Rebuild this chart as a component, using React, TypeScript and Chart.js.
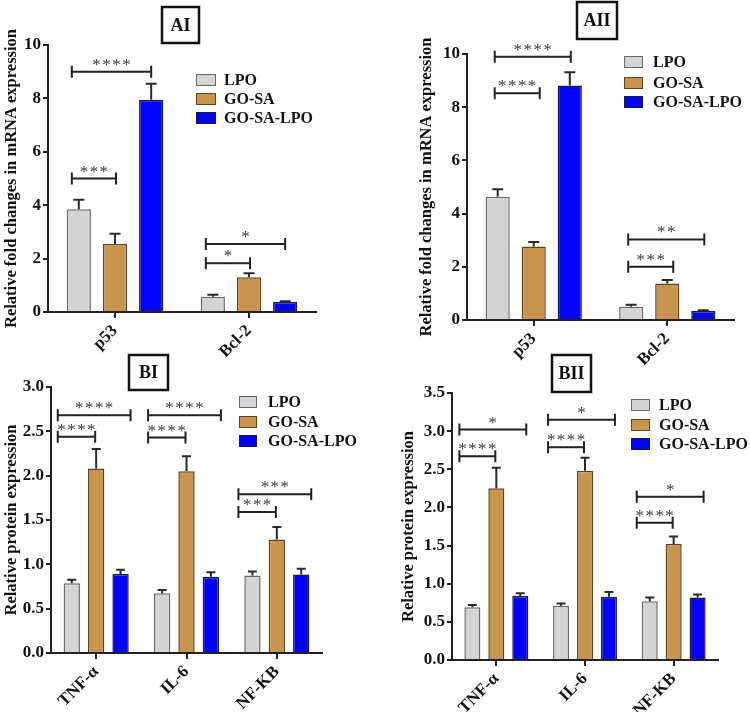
import React, { useEffect, useRef } from "react";
import { Chart, registerables } from "chart.js";

Chart.register(...registerables);

// ---------- data ----------
const seriesNames = ["LPO", "GO-SA", "GO-SA-LPO"];
const geneCategories = ["p53", "Bcl-2"];
const proteinCategories = ["TNF-α", "IL-6", "NF-KB"];

// Panel AI (mRNA, first)
const aiLPO = [3.85, 0.57];
const aiLPOErr = [0.35, 0.08];
const aiGOSA = [2.55, 1.3];
const aiGOSAErr = [0.38, 0.15];
const aiGOSALPO = [7.95, 0.37];
const aiGOSALPOErr = [0.6, 0.03];
// [category, from series, to series, y value, label]
const aiBrackets: [number, number, number, number, string][] = [
  [0, 0, 2, 9.0, "****"],
  [0, 0, 1, 5.0, "***"],
  [1, 0, 2, 2.55, "*"],
  [1, 0, 1, 1.83, "*"],
];

// Panel AII (mRNA, second)
const aiiLPO = [4.63, 0.5];
const aiiLPOErr = [0.29, 0.07];
const aiiGOSA = [2.76, 1.37];
const aiiGOSAErr = [0.17, 0.13];
const aiiGOSALPO = [8.82, 0.34];
const aiiGOSALPOErr = [0.49, 0.03];
const aiiBrackets: [number, number, number, number, string][] = [
  [0, 0, 2, 9.9, "****"],
  [0, 0, 1, 8.52, "****"],
  [1, 0, 2, 3.03, "**"],
  [1, 0, 1, 2.0, "***"],
];

// Panel BI (protein, first)
const biLPO = [0.787, 0.675, 0.874];
const biLPOErr = [0.038, 0.035, 0.046];
const biGOSA = [2.08, 2.05, 1.28];
const biGOSAErr = [0.22, 0.17, 0.14];
const biGOSALPO = [0.89, 0.86, 0.885];
const biGOSALPOErr = [0.05, 0.05, 0.065];
const biBrackets: [number, number, number, number, string][] = [
  [0, 0, 2, 2.68, "****"],
  [0, 0, 1, 2.44, "****"],
  [1, 0, 2, 2.68, "****"],
  [1, 0, 1, 2.43, "****"],
  [2, 0, 2, 1.79, "***"],
  [2, 0, 1, 1.59, "***"],
];

// Panel BII (protein, second)
const biiLPO = [0.69, 0.71, 0.77];
const biiLPOErr = [0.03, 0.03, 0.05];
const biiGOSA = [2.25, 2.48, 1.52];
const biiGOSAErr = [0.27, 0.17, 0.1];
const biiGOSALPO = [0.84, 0.83, 0.82];
const biiGOSALPOErr = [0.035, 0.06, 0.04];
const biiBrackets: [number, number, number, number, string][] = [
  [0, 0, 2, 3.02, "*"],
  [0, 0, 1, 2.67, "****"],
  [1, 0, 2, 3.15, "*"],
  [1, 0, 1, 2.79, "****"],
  [2, 0, 2, 2.14, "*"],
  [2, 0, 1, 1.8, "****"],
];

// ---------- styles ----------
const FONT = "'Liberation Serif', 'Times New Roman', serif";
const fills = ["#d4d4d4", "#c8954f", "#0000ff"];
const borders = ["#6a6a6a", "#5e4322", "#1a1a40"];

type PanelCfg = {
  title: string;
  left: number;
  top: number;
  width: number;
  height: number;
  area: { l: number; t: number; r: number; b: number };
  padLeft: number;
  cats: string[];
  vals: number[][];
  errs: number[][];
  brackets: [number, number, number, number, string][];
  yMax: number;
  yStep: number;
  yDec: number;
  yTitle: string;
  box: { x: number; y: number; w: number; h: number };
  legend: { x: number; rows: number[]; textX: number; w: number; h: number };
  br: { start: number; long: number; short: number };
  capW: number;
};

const panels: PanelCfg[] = [
  {
    title: "AI",
    left: 0, top: 0, width: 375, height: 375,
    area: { l: 48, t: 45, r: 316, b: 312 },
    padLeft: 0,
    cats: geneCategories,
    vals: [aiLPO, aiGOSA, aiGOSALPO],
    errs: [aiLPOErr, aiGOSAErr, aiGOSALPOErr],
    brackets: aiBrackets,
    yMax: 10, yStep: 2, yDec: 0,
    yTitle: "Relative fold changes in mRNA expression",
    box: { x: 162, y: 7, w: 37, h: 36 },
    legend: { x: 196, rows: [80, 99, 118], textX: 224, w: 20, h: 12 },
    br: { start: -7, long: 0, short: 1 },
    capW: 11,
  },
  {
    title: "AII",
    left: 375, top: 0, width: 375, height: 375,
    area: { l: 92, t: 54, r: 359, b: 320 },
    padLeft: 40,
    cats: geneCategories,
    vals: [aiiLPO, aiiGOSA, aiiGOSALPO],
    errs: [aiiLPOErr, aiiGOSAErr, aiiGOSALPOErr],
    brackets: aiiBrackets,
    yMax: 10, yStep: 2, yDec: 0,
    yTitle: "Relative fold changes in mRNA expression",
    box: { x: 577, y: 2, w: 40, h: 37 },
    legend: { x: 624, rows: [62, 83, 102], textX: 653, w: 19, h: 12 },
    br: { start: -3, long: 1, short: 6 },
    capW: 11,
  },
  {
    title: "BI",
    left: 0, top: 345, width: 375, height: 367,
    area: { l: 51, t: 42, r: 322, b: 308 },
    padLeft: 0,
    cats: proteinCategories,
    vals: [biLPO, biGOSA, biGOSALPO],
    errs: [biLPOErr, biGOSAErr, biGOSALPOErr],
    brackets: biBrackets,
    yMax: 3, yStep: 0.5, yDec: 1,
    yTitle: "Relative protein expression",
    box: { x: 129, y: 355, w: 39, h: 35 },
    legend: { x: 239, rows: [402, 422, 441], textX: 268, w: 18, h: 12 },
    br: { start: -14, long: 10, short: -1 },
    capW: 9,
  },
  {
    title: "BII",
    left: 375, top: 345, width: 375, height: 367,
    area: { l: 77, t: 48, r: 343, b: 315 },
    padLeft: 22,
    cats: proteinCategories,
    vals: [biiLPO, biiGOSA, biiGOSALPO],
    errs: [biiLPOErr, biiGOSAErr, biiGOSALPOErr],
    brackets: biiBrackets,
    yMax: 3.5, yStep: 0.5, yDec: 1,
    yTitle: "Relative protein expression",
    box: { x: 552, y: 355, w: 39, h: 37 },
    legend: { x: 631, rows: [405, 425, 444], textX: 659, w: 19, h: 12 },
    br: { start: -13, long: 6, short: -1 },
    capW: 9,
  },
];

function makeOverlay(p: PanelCfg) {
  return {
    id: "overlay" + p.title,
    afterDatasetsDraw(chart: any) {
      const ctx = chart.ctx as CanvasRenderingContext2D;
      const ys = chart.scales.y;
      ctx.save();
      ctx.strokeStyle = "#2a2a2a";
      ctx.lineWidth = 2;
      p.vals.forEach((series, di) => {
        const meta = chart.getDatasetMeta(di);
        series.forEach((v, ci) => {
          const el = meta.data[ci];
          const yTop = ys.getPixelForValue(v + p.errs[di][ci]);
          ctx.beginPath();
          ctx.moveTo(el.x, el.y);
          ctx.lineTo(el.x, yTop);
          ctx.moveTo(el.x - p.capW / 2, yTop);
          ctx.lineTo(el.x + p.capW / 2, yTop);
          ctx.stroke();
        });
      });
      ctx.restore();
    },
    afterDraw(chart: any) {
      const ctx = chart.ctx as CanvasRenderingContext2D;
      const ys = chart.scales.y;
      const ox = p.left;
      const oy = p.top;
      ctx.save();
      // significance brackets
      ctx.strokeStyle = "#222";
      ctx.fillStyle = "#3a3a3a";
      ctx.lineWidth = 2;
      ctx.font = `17px ${FONT}`;
      ctx.textAlign = "center";
      ctx.textBaseline = "alphabetic";
      p.brackets.forEach(([c, a, b, v, label]) => {
        const xa = chart.getDatasetMeta(a).data[c].x + p.br.start;
        const xb = chart.getDatasetMeta(b).data[c].x + (b - a > 1 ? p.br.long : p.br.short);
        const y = ys.getPixelForValue(v);
        ctx.beginPath();
        ctx.moveTo(xa, y);
        ctx.lineTo(xb, y);
        ctx.moveTo(xa, y - 6);
        ctx.lineTo(xa, y + 6);
        ctx.moveTo(xb, y - 6);
        ctx.lineTo(xb, y + 6);
        ctx.stroke();
        ctx.fillText(label.split("").join("\u200A"), (xa + xb) / 2, y - 2);
      });
      // title box
      ctx.strokeStyle = "#111";
      ctx.lineWidth = 2.5;
      ctx.strokeRect(p.box.x - ox, p.box.y - oy, p.box.w, p.box.h);
      ctx.fillStyle = "#111";
      ctx.font = `bold 18px ${FONT}`;
      ctx.textAlign = "center";
      ctx.textBaseline = "middle";
      ctx.fillText(p.title, p.box.x - ox + p.box.w / 2, p.box.y - oy + p.box.h / 2 + 1);
      // legend
      ctx.font = `bold 16px ${FONT}`;
      ctx.textAlign = "left";
      ctx.lineWidth = 1;
      seriesNames.forEach((name, i) => {
        const ry = p.legend.rows[i] - oy;
        ctx.fillStyle = fills[i];
        ctx.fillRect(p.legend.x - ox, ry - p.legend.h / 2, p.legend.w, p.legend.h);
        ctx.strokeStyle = borders[i];
        ctx.strokeRect(p.legend.x - ox + 0.5, ry - p.legend.h / 2 + 0.5, p.legend.w - 1, p.legend.h - 1);
        ctx.fillStyle = "#111";
        ctx.fillText(name, p.legend.textX - ox, ry + 1);
      });
      ctx.restore();
    },
  };
}

function PanelChart({ p }: { p: PanelCfg }) {
  const ref = useRef<HTMLCanvasElement | null>(null);
  useEffect(() => {
    if (!ref.current) return;
    const tickFont = { family: FONT, size: 17, weight: "bold" as const };
    const chart = new Chart(ref.current, {
      type: "bar",
      data: {
        labels: p.cats,
        datasets: p.vals.map((vals, i) => ({
          label: seriesNames[i],
          data: vals,
          backgroundColor: fills[i],
          borderColor: borders[i],
          borderWidth: 1.5,
          categoryPercentage: 0.81,
          barPercentage: 0.67,
        })),
      },
      options: {
        animation: false,
        responsive: false,
        maintainAspectRatio: false,
        layout: {
          padding: { left: p.padLeft, top: p.area.t, right: p.width - p.area.r, bottom: 0 },
        },
        plugins: { legend: { display: false }, tooltip: { enabled: false } },
        scales: {
          x: {
            offset: true,
            grid: {
              offset: false,
              drawOnChartArea: false,
              drawTicks: true,
              tickLength: 6,
              color: "#222",
              lineWidth: 2,
            },
            border: { color: "#222", width: 2 },
            ticks: {
              minRotation: 45,
              maxRotation: 45,
              color: "#111",
              font: tickFont,
              padding: 3,
              autoSkip: false,
            },
            afterFit: (s: any) => {
              s.height = p.height - p.area.b;
            },
          },
          y: {
            min: 0,
            max: p.yMax,
            grid: {
              drawOnChartArea: false,
              drawTicks: true,
              tickLength: 5,
              color: "#222",
              lineWidth: 2,
            },
            border: { color: "#222", width: 2 },
            ticks: {
              stepSize: p.yStep,
              color: "#111",
              font: tickFont,
              padding: 2,
              callback: (v: any) => Number(v).toFixed(p.yDec),
            },
            title: {
              display: true,
              text: p.yTitle,
              color: "#111",
              font: { family: FONT, size: 16.5, weight: "bold" },
              padding: 2,
            },
            afterFit: (s: any) => {
              s.width = p.area.l - p.padLeft;
            },
          },
        },
      },
      plugins: [makeOverlay(p)],
    });
    return () => chart.destroy();
  }, [p]);
  return (
    <canvas
      ref={ref}
      width={p.width}
      height={p.height}
      style={{ position: "absolute", left: p.left, top: p.top, width: p.width, height: p.height }}
    />
  );
}

export default function App() {
  return (
    <div style={{ position: "absolute", left: 0, top: 0, width: 750, height: 712, background: "#fff" }}>
      {panels.map((p) => (
        <PanelChart key={p.title} p={p} />
      ))}
    </div>
  );
}
